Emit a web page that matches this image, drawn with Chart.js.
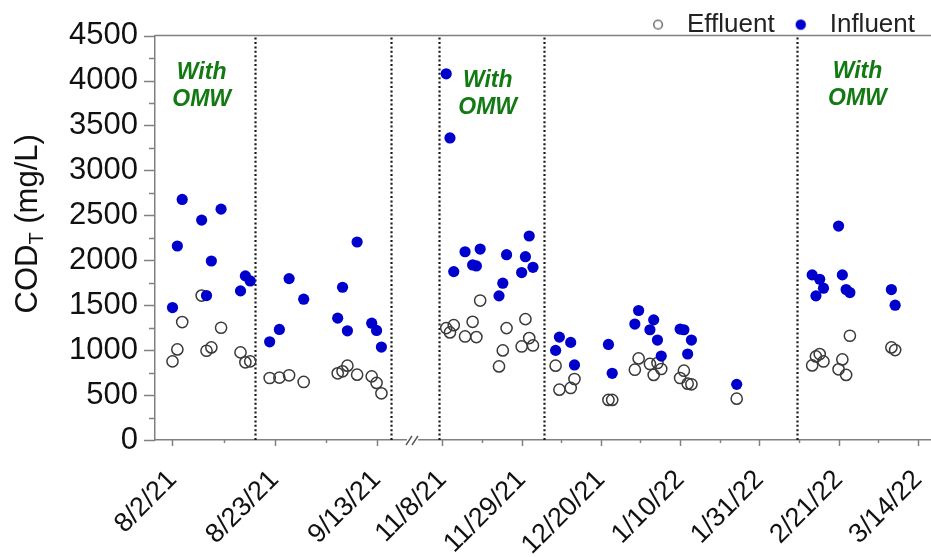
<!DOCTYPE html>
<html>
<head>
<meta charset="utf-8">
<script src="https://cdn.jsdelivr.net/npm/chart.js@4/dist/chart.umd.min.js"></script>
<style>
  html, body { margin: 0; padding: 0; background: #ffffff; }
  #wrap { width: 931px; height: 557px; }
</style>
</head>
<body>
<div id="wrap"><canvas id="c" width="931" height="557"></canvas></div>
<script>
// ---------------- DATA ----------------
const sampleDates = [
  '2021-08-02','2021-08-03','2021-08-04','2021-08-08','2021-08-09','2021-08-10','2021-08-12',
  '2021-08-16','2021-08-17','2021-08-18','2021-08-22','2021-08-24','2021-08-26','2021-08-29',
  '2021-09-05','2021-09-06','2021-09-07','2021-09-09','2021-09-12','2021-09-13','2021-09-14',
  '2021-11-09','2021-11-10','2021-11-11','2021-11-14','2021-11-16','2021-11-17','2021-11-18',
  '2021-11-23','2021-11-24','2021-11-25','2021-11-29','2021-11-30','2021-12-01','2021-12-02',
  '2021-12-08','2021-12-09','2021-12-12','2021-12-13','2021-12-22','2021-12-23','2021-12-29',
  '2021-12-30','2022-01-02','2022-01-03','2022-01-04','2022-01-05','2022-01-10','2022-01-11',
  '2022-01-12','2022-01-13','2022-01-25','2022-02-14','2022-02-15','2022-02-16','2022-02-17',
  '2022-02-21','2022-02-22','2022-02-23','2022-02-24','2022-03-07','2022-03-08'
];
const effluentValues = [
  875,1008,1312,1607,993,1030,1249,
  975,864,875,690,694,720,646,
  742,764,827,727,708,635,519,
  1245,1197,1278,1152,1315,1145,1552,
  819,997,1245,1041,1345,1134,1052,
  827,560,579,679,446,446,782,
  908,846,724,857,790,690,771,
  627,620,460,830,930,956,874,
  786,897,724,1160,1030,1001
];
const influentValues = [
  1474,2159,2677,2447,1607,1992,2569,
  1659,1826,1770,1093,1230,1796,1567,
  1356,1700,1215,2203,1300,1219,1034,
  4075,3361,1874,2095,1948,1937,2125,
  1604,1745,2062,1863,2040,2270,1922,
  997,1145,1086,835,1063,742,1290,
  1441,1227,1337,1112,934,1234,1227,
  957,1112,619,1837,1604,1789,1689,
  2381,1837,1674,1641,1674,1500
];
const seriesNames = ['Effluent', 'Influent'];
const axisBreakDate = '2021-10-15';               // dates before this go on the first axis segment
const tickAnchorDates = ['2021-08-02', '2021-11-08']; // labelled ticks every 21 days from these
const majorTickDays = 21;
const phaseBoundaryDates = ['2021-08-19','2021-09-16','2021-11-07','2021-12-05','2022-02-10'];
const omwLabelDates = ['2021-08-08','2021-11-20','2022-02-26'];
const omwLabelValues = [4085, 4000, 4095];
const omwLabelLines = ['With', 'OMW'];
const yTitleMain = 'COD', yTitleSub = 'T', yTitleUnit = ' (mg/L)';
const yMin = 0, yMax = 4500, yMinorStep = 250, yMajorStep = 500;

// ---------------- HELPERS ----------------
function dayNum(s) { const [y, m, d] = s.split('-').map(Number); return Date.UTC(y, m - 1, d) / 86400000; }
function fmtDay(n) {
  const dt = new Date(Math.round(n) * 86400000);
  return (dt.getUTCMonth() + 1) + '/' + dt.getUTCDate() + '/' + String(dt.getUTCFullYear()).slice(2);
}
const FONT = '"Liberation Sans", Arial, Helvetica, sans-serif';
const AXIS = '#808080';
const BLUE = '#0000cc';
const OPEN = '#3a3a3a';
const splitDay = dayNum(axisBreakDate);
const anchor1 = dayNum(tickAnchorDates[0]);
const anchor2 = dayNum(tickAnchorDates[1]);
const xRanges = [[anchor1 - 3.6, anchor1 + 49.5], [anchor2 - 7.8, anchor2 + 129.5]];

function points(values, seg) {
  return sampleDates.map((d, i) => ({ x: dayNum(d), y: values[i] }))
    .filter(p => seg === 0 ? p.x < splitDay : p.x >= splitDay);
}

function makeTicks(anchor, min, max) {
  const out = [];
  const half = majorTickDays / 2;
  for (let k = Math.ceil((min - anchor) / half); anchor + k * half <= max; k++) {
    out.push({ value: anchor + k * half, major: k % 2 === 0 });
  }
  return out;
}

function makeLegendIcon(fill, stroke, r, lw) {
  const c = document.createElement('canvas');
  c.width = 31; c.height = 14;
  const g = c.getContext('2d');
  g.beginPath(); g.arc(15, 7, r, 0, Math.PI * 2);
  if (fill) { g.fillStyle = fill; g.fill(); }
  if (stroke) { g.lineWidth = lw; g.strokeStyle = stroke; g.stroke(); }
  return c;
}
const iconEff = makeLegendIcon(null, '#555', 4.3, 1.3);
const iconInf = makeLegendIcon(BLUE, null, 5.2, 0);

function xScaleOpts(idx, weight) {
  const anchor = idx === 0 ? anchor1 : anchor2;
  return {
    type: 'linear',
    position: 'bottom',
    stack: 'dates',
    stackWeight: weight,
    min: xRanges[idx][0],
    max: xRanges[idx][1],
    offset: false,
    afterBuildTicks: (s) => { s.ticks = makeTicks(anchor, s.min, s.max); },
    afterFit: (s) => { s.height = 117; s.paddingLeft = 0; s.paddingRight = 0; },
    grid: { display: true, drawOnChartArea: false, drawTicks: false },
    border: { display: true, color: AXIS, width: 1.5 },
    ticks: {
      autoSkip: false, minRotation: 45, maxRotation: 45, padding: 24,
      color: '#111', font: { family: FONT, size: 27 },
      callback: function (v) {
        const k = Math.round((v - anchor) / (majorTickDays / 2));
        return k % 2 === 0 ? fmtDay(v) : '';
      }
    }
  };
}

// ---------------- PLUGINS ----------------
const decorPlugin = {
  id: 'decor',
  afterLayout(chart) {
    if (chart.legend) { chart.legend.right -= 5; }
  },
  beforeDatasetsDraw(chart) {
    const { ctx, chartArea } = chart;
    ctx.save();
    ctx.strokeStyle = '#1a1a1a';
    ctx.lineWidth = 2.2;
    ctx.setLineDash([2, 2.4]);
    for (const d of phaseBoundaryDates) {
      const v = dayNum(d);
      for (const id of ['x1', 'x2']) {
        const s = chart.scales[id];
        if (v >= s.min && v <= s.max) {
          const px = Math.round(s.getPixelForValue(v)) + 0.5;
          ctx.beginPath(); ctx.moveTo(px, chartArea.top + 2); ctx.lineTo(px, chartArea.bottom); ctx.stroke();
        }
      }
    }
    ctx.restore();
  },
  afterDatasetsDraw(chart) {
    const { ctx } = chart;
    const ys = chart.scales.y;
    ctx.save();
    ctx.fillStyle = '#137a13';
    ctx.font = 'italic bold 23px ' + FONT;
    ctx.textAlign = 'center';
    ctx.textBaseline = 'middle';
    omwLabelDates.forEach((d, i) => {
      const v = dayNum(d);
      const s = v < splitDay ? chart.scales.x1 : chart.scales.x2;
      const px = s.getPixelForValue(v);
      const py = ys.getPixelForValue(omwLabelValues[i]);
      omwLabelLines.forEach((t, j) => ctx.fillText(t, px, py + j * 27));
    });
    ctx.restore();
  },
  afterDraw(chart) {
    const { ctx, chartArea } = chart;
    ctx.save();
    ctx.strokeStyle = AXIS;
    ctx.lineWidth = 1.5;
    // top frame line
    ctx.beginPath(); ctx.moveTo(chartArea.left, chartArea.top); ctx.lineTo(chartArea.right, chartArea.top); ctx.stroke();
    // x tick marks
    for (const id of ['x1', 'x2']) {
      const s = chart.scales[id];
      for (const t of s.ticks) {
        const px = Math.round(s.getPixelForValue(t.value)) + 0.5;
        const len = t.major ? 6 : 3;
        ctx.beginPath(); ctx.moveTo(px, s.top); ctx.lineTo(px, s.top + len); ctx.stroke();
      }
    }
    // y tick marks
    const ys = chart.scales.y;
    for (const t of ys.ticks) {
      const py = Math.round(ys.getPixelForValue(t.value)) + 0.5;
      const len = t.value % yMajorStep === 0 ? 11 : 6;
      ctx.beginPath(); ctx.moveTo(ys.right - len, py); ctx.lineTo(ys.right, py); ctx.stroke();
    }
    // axis break marks
    const bx = chart.scales.x1.right;
    const by = chartArea.bottom;
    ctx.fillStyle = '#ffffff';
    ctx.fillRect(bx - 6, by - 3, 11, 6);
    ctx.strokeStyle = '#555';
    ctx.lineWidth = 1.4;
    ctx.beginPath();
    ctx.moveTo(bx - 7, by + 5); ctx.lineTo(bx - 1, by - 4);
    ctx.moveTo(bx - 1, by + 5); ctx.lineTo(bx + 5, by - 4);
    ctx.stroke();
    // y title with subscript
    const cx = 28;
    const cy = (chartArea.top + chartArea.bottom) / 2 - 14;
    ctx.translate(cx, cy);
    ctx.rotate(-Math.PI / 2);
    ctx.fillStyle = '#111';
    ctx.textBaseline = 'middle';
    ctx.textAlign = 'left';
    const mainFont = '31px ' + FONT, subFont = '20px ' + FONT;
    ctx.font = mainFont; const w1 = ctx.measureText(yTitleMain).width;
    ctx.font = subFont; const w2 = ctx.measureText(yTitleSub).width;
    ctx.font = mainFont; const w3 = ctx.measureText(yTitleUnit).width;
    let x0 = -(w1 + w2 + w3) / 2;
    ctx.font = mainFont; ctx.fillText(yTitleMain, x0, 0); x0 += w1;
    ctx.font = subFont; ctx.fillText(yTitleSub, x0, 9); x0 += w2;
    ctx.font = mainFont; ctx.fillText(yTitleUnit, x0, 0);
    ctx.restore();
  }
};

// ---------------- CHART ----------------
const effStyle = { pointStyle: 'circle', pointRadius: 5.6, pointBorderWidth: 1.5, borderColor: OPEN, backgroundColor: 'rgba(0,0,0,0)', showLine: false };
const infStyle = { pointStyle: 'circle', pointRadius: 5.6, pointBorderWidth: 0, borderColor: BLUE, backgroundColor: BLUE, showLine: false };

new Chart(document.getElementById('c'), {
  type: 'scatter',
  data: {
    datasets: [
      Object.assign({ label: seriesNames[1], data: points(influentValues, 0), xAxisID: 'x1', yAxisID: 'y' }, infStyle),
      Object.assign({ label: seriesNames[1], data: points(influentValues, 1), xAxisID: 'x2', yAxisID: 'y' }, infStyle),
      Object.assign({ label: seriesNames[0], data: points(effluentValues, 0), xAxisID: 'x1', yAxisID: 'y' }, effStyle),
      Object.assign({ label: seriesNames[0], data: points(effluentValues, 1), xAxisID: 'x2', yAxisID: 'y' }, effStyle)
    ]
  },
  options: {
    responsive: false,
    animation: false,
    devicePixelRatio: 1,
    layout: { padding: 0, autoPadding: false },
    plugins: {
      tooltip: { enabled: false },
      legend: {
        position: 'top',
        align: 'end',
        maxHeight: 35,
        labels: {
          usePointStyle: true,
          pointStyleWidth: 31,
          boxHeight: 14,
          padding: 11,
          color: '#222',
          font: { family: FONT, size: 26 },
          generateLabels: () => [
            { text: seriesNames[0], pointStyle: iconEff, fillStyle: 'rgba(0,0,0,0)', strokeStyle: 'rgba(0,0,0,0)', lineWidth: 0, hidden: false, datasetIndex: 2, fontColor: '#222' },
            { text: seriesNames[1], pointStyle: iconInf, fillStyle: BLUE, strokeStyle: 'rgba(0,0,0,0)', lineWidth: 0, hidden: false, datasetIndex: 0, fontColor: '#222' }
          ]
        }
      }
    },
    scales: {
      x1: xScaleOpts(0, 258),
      x2: xScaleOpts(1, 518),
      y: {
        type: 'linear',
        position: 'left',
        min: yMin, max: yMax,
        afterFit: (s) => { s.width = 155; },
        grid: { display: true, drawOnChartArea: false, drawTicks: false },
        border: { display: true, color: AXIS, width: 1.5 },
        ticks: {
          stepSize: yMinorStep, autoSkip: false, padding: 17,
          color: '#111', font: { family: FONT, size: 31 },
          callback: (v) => (v % yMajorStep === 0 ? String(v) : '')
        }
      }
    }
  },
  plugins: [decorPlugin]
});
</script>
</body>
</html>
